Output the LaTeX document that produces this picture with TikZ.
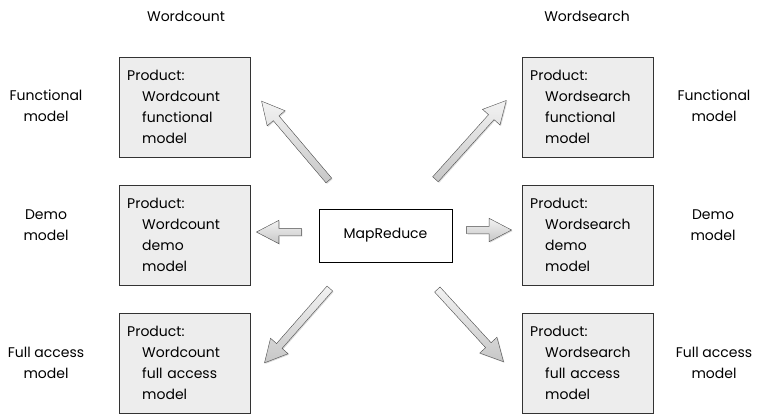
\documentclass[tikz,border=0pt]{standalone}
\usepackage{fontspec}
\setmainfont{Poppins}
\usetikzlibrary{shapes.arrows,shadows}
\newcommand\prodtxt[3]{Product:\\\hspace*{15pt}#1\\\hspace*{15pt}#2\\\hspace*{15pt}#3}
\begin{document}
\begin{tikzpicture}[x=1pt,y=-1pt,font=\fontsize{14}{21}\selectfont]
    \tikzstyle{prod}=[draw=black!80,fill=black!7,anchor=north west,text width=115pt,inner xsep=8pt,inner ysep=0pt,minimum height=100pt,align=left]
    \tikzstyle{lbl}=[align=center,inner sep=2pt]
    \tikzstyle{fat}=[single arrow,draw=black!70,top color=black!5,bottom color=black!22,inner xsep=0pt,inner ysep=3.5pt,single arrow head extend=8pt,single arrow tip angle=55,sloped,allow upside down,drop shadow={shadow xshift=1pt,shadow yshift=-1pt,opacity=.3}]
    \useasboundingbox (0,0) rectangle (766,413);
    \clip (0,0) rectangle (766,413);
    \draw node(wc)at(186,16){Wordcount} node(ws)at(587,16){Wordsearch};
    \draw node(lf)at(46,106)[lbl]{Functional\\model}
          node(ld)at(46,225)[lbl]{Demo\\model}
          node(la)at(46,363)[lbl]{Full access\\model}
          node(rf)at(714,106)[lbl]{Functional\\model}
          node(rd)at(713,225)[lbl]{Demo\\model}
          node(ra)at(714,363)[lbl]{Full access\\model};
    \draw node(wcf)at(119,57)[prod]{\prodtxt{Wordcount}{functional}{model}}
          node(wcd)at(119,185)[prod]{\prodtxt{Wordcount}{demo}{model}}
          node(wca)at(119,313)[prod]{\prodtxt{Wordcount}{full access}{model}}
          node(wsf)at(522,57)[prod]{\prodtxt{Wordsearch}{functional}{model}}
          node(wsd)at(522,185)[prod]{\prodtxt{Wordsearch}{demo}{model}}
          node(wsa)at(522,313)[prod]{\prodtxt{Wordsearch}{full access}{model}};
    \draw node(mr)at(385.5,235.5)[draw,fill=white,minimum width=133pt,minimum height=53pt]{MapReduce};
    % block arrows out of MapReduce
    \coordinate(ul1)at(331,183); \coordinate(ul2)at(264,104);
    \coordinate(l1)at(305,232);  \coordinate(l2)at(260,232);
    \coordinate(ll1)at(332,286); \coordinate(ll2)at(267,360);
    \coordinate(ur1)at(433,182); \coordinate(ur2)at(504,103);
    \coordinate(r1)at(463,230);  \coordinate(r2)at(508,230);
    \coordinate(lr1)at(435,287); \coordinate(lr2)at(501,359);
    \path(ul1)--(ul2)node[fat,midway,minimum height=104pt]{};
    \path(l1)--(l2)node[fat,midway,minimum height=45pt]{};
    \path(ll1)--(ll2)node[fat,midway,minimum height=99pt]{};
    \path(ur1)--(ur2)node[fat,midway,minimum height=106pt]{};
    \path(r1)--(r2)node[fat,midway,minimum height=45pt]{};
    \path(lr1)--(lr2)node[fat,midway,minimum height=98pt]{};
\end{tikzpicture}
\end{document}
